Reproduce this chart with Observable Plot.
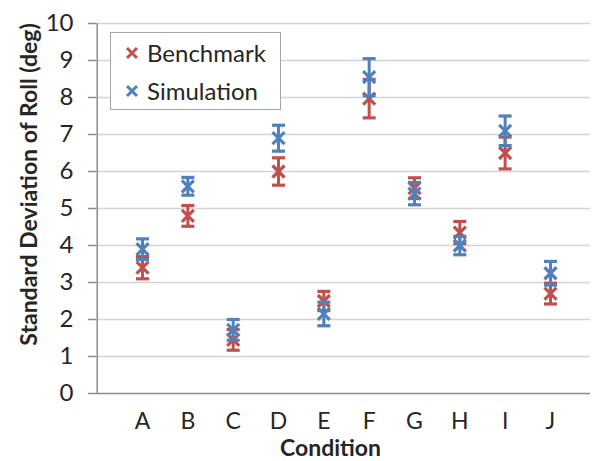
<!DOCTYPE html>
<html>
<head>
<meta charset="utf-8">
<script src="https://cdn.jsdelivr.net/npm/d3@7"></script>
<script src="https://cdn.jsdelivr.net/npm/@observablehq/plot@0.6"></script>
<style>
  html, body { margin: 0; padding: 0; background: #fff; }
  #wrap { position: relative; width: 592px; height: 461px; font-family: Lato, "Open Sans", sans-serif; }
  #legend { position: absolute; left: 110px; top: 32px; width: 171px; height: 78px; border: 1.5px solid #a6a6a6; background: #fff; box-sizing: border-box; }
  .item { position: absolute; left: 14px; font-size: 24px; color: #262626; line-height: 1; display: flex; align-items: center; }
  .item svg { margin-right: 8px; }
</style>
</head>
<body>
<div id="wrap">
  <div id="chart"></div>
  <div id="legend">
    <div class="item" style="top:8px"><svg width="14" height="14"><path d="M2,2L12,12M12,2L2,12" stroke="#C0504D" stroke-width="3"/></svg>Benchmark</div>
    <div class="item" style="top:46px"><svg width="14" height="14"><path d="M2,2L12,12M12,2L2,12" stroke="#4F81BD" stroke-width="3"/></svg>Simulation</div>
  </div>
</div>
<script>
const categories = ["A", "B", "C", "D", "E", "F", "G", "H", "I", "J"];
const benchmark = [3.4, 4.8, 1.45, 6.0, 2.5, 7.97, 5.55, 4.35, 6.5, 2.7];
const benchmarkErr = [0.3, 0.28, 0.28, 0.37, 0.26, 0.52, 0.28, 0.3, 0.43, 0.28];
const simulation = [3.9, 5.6, 1.72, 6.9, 2.15, 8.55, 5.4, 4.0, 7.1, 3.25];
const simulationErr = [0.28, 0.24, 0.28, 0.35, 0.32, 0.5, 0.3, 0.25, 0.4, 0.32];
const yTicks = [0, 1, 2, 3, 4, 5, 6, 7, 8, 9, 10];
const colors = {Benchmark: "#C0504D", Simulation: "#4F81BD"};

const rows = [];
categories.forEach((c, i) => {
  rows.push({series: "Benchmark", pos: i + 1, cat: c, v: benchmark[i], lo: benchmark[i] - benchmarkErr[i], hi: benchmark[i] + benchmarkErr[i]});
});
categories.forEach((c, i) => {
  rows.push({series: "Simulation", pos: i + 1, cat: c, v: simulation[i], lo: simulation[i] - simulationErr[i], hi: simulation[i] + simulationErr[i]});
});

const capSymbol = {draw(ctx, size) { const r = Math.sqrt(size / Math.PI); ctx.moveTo(-r, 0); ctx.lineTo(r, 0); }};
const timesSymbol = {draw(ctx, size) { const r = Math.sqrt(size / Math.PI); ctx.moveTo(-r, -r); ctx.lineTo(r, r); ctx.moveTo(r, -r); ctx.lineTo(-r, r); }};

const seriesMarks = s => {
  const d = rows.filter(r => r.series === s);
  const col = colors[s];
  return [
    Plot.ruleX(d, {x: "pos", y1: "lo", y2: "hi", stroke: col, strokeWidth: 3}),
    Plot.dot(d, {x: "pos", y: "lo", symbol: capSymbol, r: 6.5, stroke: col, strokeWidth: 3.2, fill: "none"}),
    Plot.dot(d, {x: "pos", y: "hi", symbol: capSymbol, r: 6.5, stroke: col, strokeWidth: 3.2, fill: "none"}),
    Plot.dot(d, {x: "pos", y: "v", symbol: timesSymbol, r: 6, stroke: col, strokeWidth: 3.2, fill: "none"})
  ];
};

const chart = Plot.plot({
  width: 592,
  height: 461,
  marginLeft: 96,
  marginRight: 2,
  marginTop: 23,
  marginBottom: 68,
  style: {fontFamily: "Lato, 'Open Sans', sans-serif", color: "#262626", background: "#fff", overflow: "visible"},
  x: {domain: [0, 11], range: [96.7, 595.3], axis: null},
  y: {domain: [0, 10], axis: null},
  marks: [
    Plot.ruleY(yTicks.filter(t => t > 0), {stroke: "#d4d4d4", strokeWidth: 1.3}),
    Plot.ruleY([0], {stroke: "#8c8c8c", strokeWidth: 1.5}),
    Plot.ruleX([0], {stroke: "#8c8c8c", strokeWidth: 1.5}),
    Plot.axisY({ticks: yTicks, tickSize: 8, tickPadding: 15, fontSize: 24, stroke: "#8c8c8c", strokeWidth: 1.5, label: null}),
    Plot.axisX({ticks: categories.map((c, i) => i + 1), tickFormat: p => categories[p - 1], tickSize: 0, tickPadding: 19, fontSize: 23, label: null}),
    Plot.text(["Condition"], {frameAnchor: "bottom", lineAnchor: "middle", dy: 55, dx: -13, fontSize: 23, fontWeight: "bold"}),
    Plot.text(["Standard Deviation of Roll (deg)"], {frameAnchor: "left", textAnchor: "middle", rotate: -90, dx: -67, dy: -24, fontSize: 23, fontWeight: "bold"}),
    ...seriesMarks("Benchmark"),
    ...seriesMarks("Simulation")
  ]
});
document.getElementById("chart").appendChild(chart);
</script>
</body>
</html>
